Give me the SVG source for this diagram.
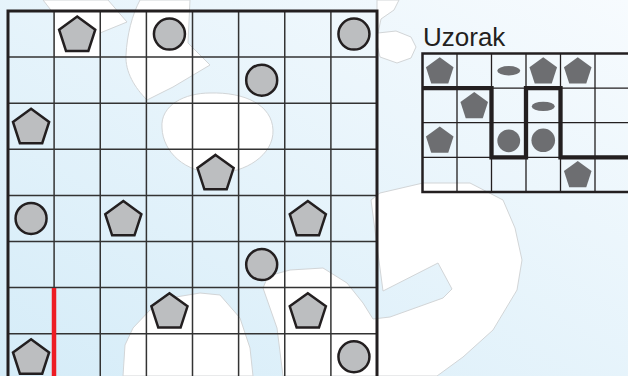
<svg xmlns="http://www.w3.org/2000/svg" xmlns:xlink="http://www.w3.org/1999/xlink" width="628" height="376" viewBox="0 0 628 376">
<style>
.blob{fill:#ffffff;stroke:#d2d5d7;stroke-width:1}
.gl{stroke:#333333;stroke-width:1.5;fill:none}
.gb{stroke:#231f20;stroke-width:3;fill:none}
.sh{fill:#bcbec0;stroke:#231f20;stroke-width:2.5;stroke-linejoin:miter}
.pl{stroke:#231f20;stroke-width:1.3;fill:none}
.pb{stroke:#231f20;stroke-width:2.5;fill:none}
.pf{fill:#6d6e71}
.title{font-family:"Liberation Sans",Arial,sans-serif;font-size:26px;fill:#231f20}
</style>
<defs>
<linearGradient id="bg" x1="0" y1="1" x2="1" y2="0">
<stop offset="0" stop-color="#d5ecf8"/>
<stop offset="1" stop-color="#f7fbfe"/>
</linearGradient>
<polygon id="pent" points="0,-19 18.07,-5.87 11.17,15.37 -11.17,15.37 -18.07,-5.87"/>
<polygon id="ppent" points="0,-14.5 13.79,-4.48 8.52,11.73 -8.52,11.73 -13.79,-4.48"/>
</defs>
<g id="background">
<rect x="0" y="0" width="628" height="376" fill="url(#bg)"/>
<path class="blob" d="M43,0 L54,14 L54,57 L100,57 L100,33 L127,22 L108,0 Z"/>
<path class="blob" d="M140,0 C132,15 127,35 126,55 C125,72 135,88 147,100 L173,87 L210,65 L188,43 L190,0 Z"/>
<path class="blob" d="M162,128 C160,105 185,93 210,93 C245,92 272,105 273,130 C274,155 245,173 217,173 C185,173 163,152 162,128 Z"/>
<path class="blob" d="M399,0 L394,10 L381,19 L378,33 L396,31 L411,37 L416,47 L411,58 L397,63 L380,57 L377,45 L377,0 Z"/>
<path class="blob" d="M123,376 L125,345 L133,328 L150,310 L170,298 L200,293 L220,295 L240,318 L250,348 L253,376 Z"/>
<path class="blob" d="M283,376 L277,328 L263,288 L268,276 L290,270 L323,268 L347,283 L363,303 L373,319 L390,317 L443,298 L452,289 L438,263 L383,291 L376,238 L371,200 L380,193 L423,183 L470,183 L503,200 L515,228 L522,260 L517,290 L493,330 L463,357 L437,376 Z"/>
</g>
<g id="main-grid">
<path class="gl" d="M54.1,11 V376 M100.25,11 V376 M146.4,11 V376 M192.5,11 V376 M238.6,11 V376 M284.75,11 V376 M330.9,11 V376 M8,57.1 H377 M8,103.2 H377 M8,149.3 H377 M8,195.4 H377 M8,241.5 H377 M8,287.6 H377 M8,333.7 H377"/>
<path class="gb" d="M8,380 V11 H377 V380"/>
</g>
<g id="main-shapes">
<g id="p-1-0"><use xlink:href="#pent" class="sh" x="77.19" y="35.6"/></g>
<g id="c-3-0"><circle class="sh" cx="169.44" cy="34.06" r="15.5"/></g>
<g id="c-7-0"><circle class="sh" cx="353.94" cy="34.06" r="15.5"/></g>
<g id="c-5-1"><circle class="sh" cx="261.69" cy="80.16" r="15.5"/></g>
<g id="p-0-2"><use xlink:href="#pent" class="sh" x="31.06" y="127.8"/></g>
<g id="p-4-3"><use xlink:href="#pent" class="sh" x="215.56" y="173.9"/></g>
<g id="c-0-4"><circle class="sh" cx="31.06" cy="218.46" r="15.5"/></g>
<g id="p-2-4"><use xlink:href="#pent" class="sh" x="123.31" y="220"/></g>
<g id="p-6-4"><use xlink:href="#pent" class="sh" x="307.81" y="220"/></g>
<g id="c-5-5"><circle class="sh" cx="261.69" cy="264.56" r="15.5"/></g>
<g id="p-3-6"><use xlink:href="#pent" class="sh" x="169.44" y="312.2"/></g>
<g id="p-6-6"><use xlink:href="#pent" class="sh" x="307.81" y="312.2"/></g>
<g id="p-0-7"><use xlink:href="#pent" class="sh" x="31.06" y="358.3"/></g>
<g id="c-7-7"><circle class="sh" cx="353.94" cy="356.76" r="15.5"/></g>
</g>
<g id="connectors">
<line x1="54" y1="288" x2="54" y2="376" stroke="#ed1c24" stroke-width="4.5"/>
</g>
<g id="pattern">
<text class="title" x="423" y="46">Uzorak</text>
<path class="pl" d="M457,53.5 V191.9 M491.5,53.5 V191.9 M526,53.5 V191.9 M560.5,53.5 V191.9 M595,53.5 V191.9 M422.5,88.1 H628 M422.5,122.7 H628 M422.5,157.3 H628"/>
<path class="pb" d="M628,53.5 H422.5 V191.9 H628"/>
<g id="pp-0-0"><use xlink:href="#ppent" class="pf" x="439.75" y="71.8"/></g>
<g id="pe-2-0"><ellipse class="pf" cx="508.75" cy="70.8" rx="11.5" ry="4.7"/></g>
<g id="pp-3-0"><use xlink:href="#ppent" class="pf" x="543.25" y="71.8"/></g>
<g id="pp-4-0"><use xlink:href="#ppent" class="pf" x="577.75" y="71.8"/></g>
<g id="pp-1-1"><use xlink:href="#ppent" class="pf" x="474.25" y="106.4"/></g>
<g id="pe-3-1"><ellipse class="pf" cx="543.25" cy="106.4" rx="11.5" ry="4.7"/></g>
<g id="pp-0-2"><use xlink:href="#ppent" class="pf" x="439.75" y="141"/></g>
<g id="pc-2-2"><circle class="pf" cx="508.75" cy="140.8" r="11.4"/></g>
<g id="pc-3-2"><circle class="pf" cx="543.25" cy="140.3" r="11.8"/></g>
<g id="pp-4-3"><use xlink:href="#ppent" class="pf" x="577.75" y="175.6"/></g>
<path d="M422.5,88.1 H491.5 V157.3 H526 V88.1 H560.5 V157.3 H628" fill="none" stroke="#231f20" stroke-width="4.3"/>
</g>
</svg>
